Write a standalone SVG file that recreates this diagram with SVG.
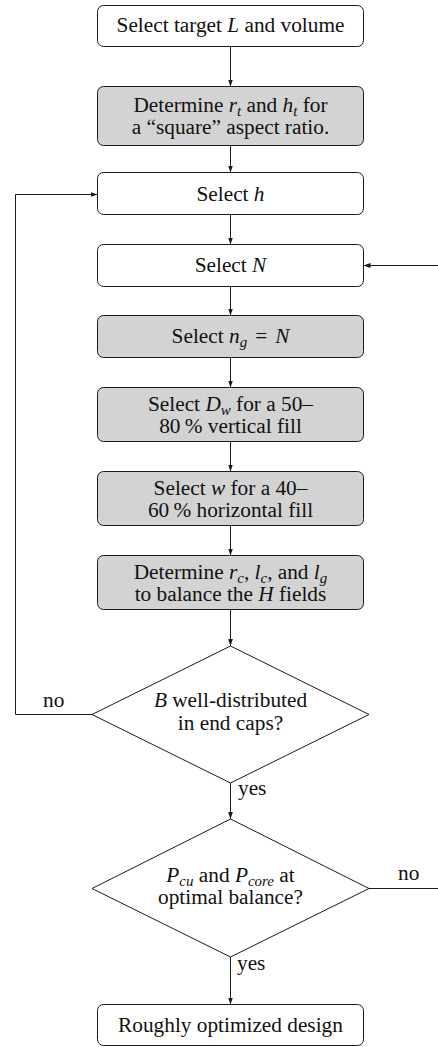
<svg xmlns="http://www.w3.org/2000/svg" width="438" height="1047" viewBox="0 0 438 1047">
<style>
  .box { fill: #ffffff; stroke: #1a1a1a; stroke-width: 1; }
  .gray { fill: #d3d3d3; stroke: #1a1a1a; stroke-width: 1; }
  .dia { fill: #ffffff; stroke: #1a1a1a; stroke-width: 1; }
  .t { font-family: "Liberation Serif", "Times New Roman", serif; font-size: 21.3px; fill: #111111; text-anchor: middle; }
  .l { font-family: "Liberation Serif", "Times New Roman", serif; font-size: 21.3px; fill: #111111; }
  .i { font-style: italic; }
  .s { font-style: italic; font-size: 15px; }
  .c { fill: none; stroke: #1a1a1a; stroke-width: 1; }
</style>
<defs>
  <marker id="ah" markerUnits="userSpaceOnUse" markerWidth="8" markerHeight="8" viewBox="0 0 8 8" refX="7" refY="4" orient="auto">
    <path d="M0,1.6 L7,4 L0,6.4 Z" fill="#1a1a1a"/>
  </marker>
</defs>

<g id="connectors">
  <path class="c" d="M230.5,46.5 V86.5" marker-end="url(#ah)"/>
  <path class="c" d="M230.5,145.5 V172.5" marker-end="url(#ah)"/>
  <path class="c" d="M230.5,214.5 V244.5" marker-end="url(#ah)"/>
  <path class="c" d="M230.5,286.5 V315.5" marker-end="url(#ah)"/>
  <path class="c" d="M230.5,357.5 V387.5" marker-end="url(#ah)"/>
  <path class="c" d="M230.5,441.5 V471.5" marker-end="url(#ah)"/>
  <path class="c" d="M230.5,525.5 V555.5" marker-end="url(#ah)"/>
  <path class="c" d="M230.5,609.5 V646" marker-end="url(#ah)"/>
  <path class="c" d="M230.5,783 V819" marker-end="url(#ah)"/>
  <path class="c" d="M230.5,957 V1004.5" marker-end="url(#ah)"/>
  <path class="c" d="M92,714.5 H15.5 V194.5 H97.5" marker-end="url(#ah)"/>
  <path class="c" d="M369,888.5 H438"/>
  <path class="c" d="M438,265.5 H363.5" marker-end="url(#ah)"/>
  <text class="l" x="43" y="707">no</text>
  <text class="l" x="238" y="795">yes</text>
  <text class="l" x="398" y="880">no</text>
  <text class="l" x="237" y="970">yes</text>
</g>

<g id="n1">
  <rect class="box" x="97.5" y="5.5" width="266" height="41" rx="6"/>
  <text class="t" x="230.5" y="32">Select target <tspan class="i">L</tspan> and volume</text>
</g>

<g id="n2">
  <rect class="gray" x="97.5" y="86.5" width="266" height="59" rx="6"/>
  <text class="t" x="230.5" y="112">Determine <tspan class="i">r</tspan><tspan class="s" dy="4">t</tspan><tspan dy="-4"> and </tspan><tspan class="i">h</tspan><tspan class="s" dy="4">t</tspan><tspan dy="-4"> for</tspan></text>
  <text class="t" x="230.5" y="133.5">a “square” aspect ratio.</text>
</g>

<g id="n3">
  <rect class="box" x="97.5" y="172.5" width="266" height="42" rx="6"/>
  <text class="t" x="230.5" y="200.5">Select <tspan class="i">h</tspan></text>
</g>

<g id="n4">
  <rect class="box" x="97.5" y="244.5" width="266" height="42" rx="6"/>
  <text class="t" x="230.5" y="272">Select <tspan class="i">N</tspan></text>
</g>

<g id="n5">
  <rect class="gray" x="97.5" y="315.5" width="266" height="42" rx="6"/>
  <text class="t" x="230.5" y="343">Select <tspan class="i">n</tspan><tspan class="s" dy="4">g</tspan><tspan dy="-4" dx="8">=</tspan><tspan class="i" dx="8">N</tspan></text>
</g>

<g id="n6">
  <rect class="gray" x="97.5" y="387.5" width="266" height="54" rx="6"/>
  <text class="t" x="230.5" y="411">Select <tspan class="i">D</tspan><tspan class="s" dy="4">w</tspan><tspan dy="-4"> for a 50–</tspan></text>
  <text class="t" x="230.5" y="433">80&#8201;% vertical fill</text>
</g>

<g id="n7">
  <rect class="gray" x="97.5" y="471.5" width="266" height="54" rx="6"/>
  <text class="t" x="230.5" y="495">Select <tspan class="i">w</tspan> for a 40–</text>
  <text class="t" x="230.5" y="517">60&#8201;% horizontal fill</text>
</g>

<g id="n8">
  <rect class="gray" x="97.5" y="555.5" width="266" height="54" rx="6"/>
  <text class="t" x="230.5" y="578.5">Determine <tspan class="i">r</tspan><tspan class="s" dy="4">c</tspan><tspan dy="-4">, </tspan><tspan class="i">l</tspan><tspan class="s" dy="4">c</tspan><tspan dy="-4">, and </tspan><tspan class="i">l</tspan><tspan class="s" dy="4">g</tspan></text>
  <text class="t" x="230.5" y="601">to balance the <tspan class="i">H</tspan> fields</text>
</g>

<g id="d1">
  <polygon class="dia" points="230.5,646 369,714.5 230.5,783 92,714.5"/>
  <text class="t" x="230.5" y="707"><tspan class="i">B</tspan> well-distributed</text>
  <text class="t" x="230.5" y="729.5">in end caps?</text>
</g>

<g id="d2">
  <polygon class="dia" points="230.5,819 369,888.5 230.5,957 92,888.5"/>
  <text class="t" x="230.5" y="882"><tspan class="i">P</tspan><tspan class="s" dy="4">cu</tspan><tspan dy="-4"> and </tspan><tspan class="i">P</tspan><tspan class="s" dy="4">core</tspan><tspan dy="-4"> at</tspan></text>
  <text class="t" x="230.5" y="903.5">optimal balance?</text>
</g>

<g id="n9">
  <rect class="box" x="97.5" y="1004.5" width="266" height="41" rx="6"/>
  <text class="t" x="230.5" y="1031.5">Roughly optimized design</text>
</g>
</svg>
